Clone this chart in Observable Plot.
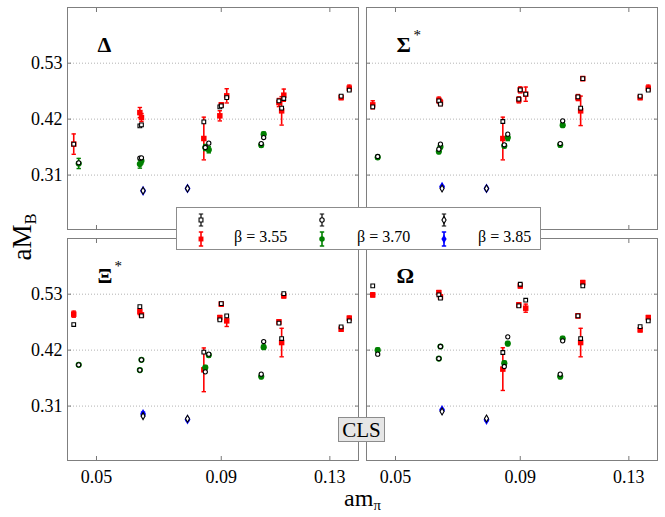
<!DOCTYPE html>
<html>
<head>
<meta charset="utf-8">
<script src="https://cdn.jsdelivr.net/npm/d3@7"></script>
<script src="https://cdn.jsdelivr.net/npm/@observablehq/plot@0.6"></script>
<style>
  body { margin: 0; background: #fff; }
  #wrap { position: relative; width: 665px; height: 517px; font-family: "Liberation Serif", "Times New Roman", serif; color: #000; }
  #wrap svg { position: absolute; left: 0; top: 0; }
  .ylab { position: absolute; left: 22px; top: 237px; transform: translate(-50%, -50%) rotate(-90deg); font-size: 27px; white-space: nowrap; line-height: 1; }
  .xlab { position: absolute; left: 362.5px; top: 486px; transform: translateX(-50%); font-size: 24px; white-space: nowrap; line-height: 1; }
  sub { font-size: 0.62em; vertical-align: -0.3em; line-height: 0; }
  .legend { position: absolute; left: 176px; top: 207px; width: 363px; height: 41px; background: #fff; border: 1px solid #8c8c8c; }
  .legend .lt { position: absolute; top: 21px; font-size: 16px; white-space: nowrap; line-height: 1; }
  .legend svg { position: absolute; top: 0; }
  .cls { position: absolute; left: 338px; top: 417px; width: 45px; height: 23px; background: #e6e6e6; border: 1px solid #8c8c8c; font-size: 21px; line-height: 24px; text-align: center; }
</style>
</head>
<body>
<div id="wrap"></div>
<script>
// ---- data ----
const baryons = ["Δ", "Σ", "Ξ", "Ω"];
const stars = ["", "*", "*", ""];
const betas = ["3.55", "3.70", "3.85"];
const betaColors = ["#ff0000", "#008000", "#0000ff"];
const xTicks = [0.05, 0.09, 0.13];
const yTicks = [0.31, 0.42, 0.53];

const ensembleBeta = ["3.55","3.70","3.55","3.55","3.70","3.70","3.85","3.85","3.55","3.70","3.70",
                      "3.55","3.55","3.55","3.70","3.70","3.55","3.55","3.55","3.55","3.55"];
const ensembleAmPi = [0.0435,0.0449,0.0631,0.0636,0.0631,0.0636,0.0641,0.0785,0.0840,0.0845,0.0857,
                      0.0895,0.0900,0.0919,0.1042,0.1051,0.1107,0.1117,0.1125,0.1344,0.1376];

const deltaLat = [0.3709,0.3328,0.4329,0.4231,0.3316,0.3381,0.2791,0.2836,0.3819,0.3642,0.3597,
                  0.4265,0.4481,0.4658,0.3689,0.3905,0.4526,0.4363,0.4671,0.4624,0.4809];
const deltaErr = [0.020,0.010,0.010,0.008,0.008,0.006,0.002,0.002,0.042,0.006,0.006,
                  0.010,0.004,0.014,0.004,0.004,0.008,0.028,0.012,0.004,0.006];
const deltaFit = [0.3709,0.3341,0.4068,0.4088,0.3434,0.3440,0.2791,0.2836,0.4147,0.3642,0.3728,
                  0.4441,0.4461,0.4624,0.3720,0.3838,0.4559,0.4416,0.4605,0.4652,0.4770];

const sigmaLat = [0.4481,0.3450,0.4573,0.4526,0.3563,0.3656,0.2870,0.2836,0.3819,0.3675,0.3838,
                  0.4579,0.4775,0.4691,0.3695,0.4082,0.4624,0.4363,0.4997,0.4624,0.4809];
const sigmaErr = [0.008,0.004,0.006,0.006,0.004,0.004,0.002,0.002,0.042,0.004,0.006,
                  0.006,0.006,0.014,0.004,0.004,0.006,0.029,0.004,0.004,0.006];
const sigmaFit = [0.4441,0.3465,0.4559,0.4495,0.3610,0.3709,0.2836,0.2836,0.4153,0.3695,0.3905,
                  0.4593,0.4775,0.4691,0.3720,0.4166,0.4638,0.4416,0.4997,0.4652,0.4770];

const xiLat = [0.4907,0.3911,0.4958,0.4893,0.3807,0.4009,0.2942,0.2836,0.3813,0.3858,0.4102,
               0.4840,0.5104,0.4775,0.3681,0.4259,0.4756,0.4349,0.5267,0.4612,0.4828];
const xiErr = [0.006,0.002,0.006,0.004,0.002,0.002,0.004,0.002,0.043,0.004,0.004,
               0.004,0.004,0.011,0.004,0.004,0.004,0.028,0.004,0.004,0.004];
const xiFit = [0.4703,0.3911,0.5056,0.4874,0.3807,0.4009,0.2903,0.2850,0.4160,0.3773,0.4121,
               0.4795,0.5115,0.4874,0.3728,0.4369,0.4730,0.4428,0.5312,0.4658,0.4775];

const omegaLat = [0.5286,0.4200,0.5331,0.5247,0.4035,0.4271,0.3021,0.2830,0.3827,0.3944,0.4329,
                  0.5090,0.5463,0.5025,0.3681,0.4428,0.4874,0.4349,0.5528,0.4599,0.4840];
const omegaErr = [0.004,0.004,0.004,0.004,0.002,0.002,0.002,0.002,0.042,0.004,0.004,
                  0.004,0.004,0.008,0.004,0.004,0.004,0.028,0.004,0.004,0.004];
const omegaFit = [0.5463,0.4121,0.5286,0.5221,0.4035,0.4271,0.2994,0.2856,0.4153,0.3878,0.4461,
                  0.5070,0.5496,0.5182,0.3728,0.4383,0.4874,0.4428,0.5463,0.4663,0.4775];

// ---- table built from the arrays ----
const lat = [deltaLat, sigmaLat, xiLat, omegaLat];
const err = [deltaErr, sigmaErr, xiErr, omegaErr];
const fit = [deltaFit, sigmaFit, xiFit, omegaFit];
const rows = [];
baryons.forEach((b, p) => {
  ensembleAmPi.forEach((x, i) => {
    rows.push({
      col: p % 2, row: Math.floor(p / 2), x, beta: ensembleBeta[i],
      y: lat[p][i], lo: lat[p][i] - err[p][i], hi: lat[p][i] + err[p][i], fit: fit[p][i]
    });
  });
});
const panels = baryons.map((b, p) => ({col: p % 2, row: Math.floor(p / 2), label: b, star: stars[p]}));

const cap = {draw(ctx) { ctx.moveTo(-2.2, 0); ctx.lineTo(2.2, 0); }};
const F = {fx: "col", fy: "row"};
const tickStyle = {tickSize: -4, tickFormat: () => "", label: null, stroke: "#777", facetAnchor: null};

const chart = Plot.plot({
  width: 665, height: 517,
  marginLeft: 66.7, marginRight: 6.7, marginTop: 6.7, marginBottom: 56,
  style: {fontFamily: "'Liberation Serif', 'Times New Roman', serif", background: "white", color: "black"},
  x: {type: "pow", exponent: 0.7, domain: [0.04177, 0.14126]},
  y: {domain: [0.203, 0.6395]},
  fx: {domain: [0, 1], paddingInner: 0.0267, paddingOuter: 0, axis: null},
  fy: {domain: [0, 1], paddingInner: 0.04, paddingOuter: 0, axis: null},
  color: {domain: betas, range: betaColors},
  symbol: {domain: betas, range: ["square", "circle", "diamond"]},
  marks: [
    Plot.gridY(yTicks, {stroke: "#a0a0a0", strokeOpacity: 1, strokeDasharray: "1,2", strokeWidth: 0.8}),
    Plot.frame({stroke: "#7f7f7f"}),
    Plot.axisX(xTicks, {anchor: "bottom", ...tickStyle}),
    Plot.axisX(xTicks, {anchor: "top", ...tickStyle}),
    Plot.axisY(yTicks, {anchor: "left", ...tickStyle}),
    Plot.axisY(yTicks, {anchor: "right", ...tickStyle}),
    Plot.axisX(xTicks, {anchor: "bottom", tickSize: 0, tickPadding: 10, tickFormat: d3.format(".2f"), fontSize: 18, label: null, facetAnchor: "bottom"}),
    Plot.axisY(yTicks, {anchor: "left", tickSize: 0, tickPadding: 5, tickFormat: d3.format(".2f"), fontSize: 18, label: null, facetAnchor: "left"}),
    Plot.ruleX(rows, {x: "x", y1: "lo", y2: "hi", stroke: "beta", strokeWidth: 1.6, ...F}),
    Plot.dot(rows, {x: "x", y: "lo", symbol: cap, fill: "none", stroke: "beta", strokeWidth: 1.4, ...F}),
    Plot.dot(rows, {x: "x", y: "hi", symbol: cap, fill: "none", stroke: "beta", strokeWidth: 1.4, ...F}),
    Plot.dot(rows, {x: "x", y: "y", symbol: "beta", fill: "beta", stroke: "none", r: 3.1, ...F}),
    Plot.dot(rows, {x: "x", y: "fit", symbol: "beta", fill: "white", stroke: "black", strokeWidth: 1.1, r: 2.1, ...F}),
    Plot.text(panels, {...F, text: "label", frameAnchor: "top-left", dx: 30, dy: 29, lineAnchor: "top", textAnchor: "start", fontSize: 22, fontWeight: "bold", fill: "black"}),
    Plot.text(panels, {...F, text: "star", frameAnchor: "top-left", dx: 47, dy: 22, lineAnchor: "top", textAnchor: "start", fontSize: 15, fill: "black"})
  ]
});

const wrap = document.getElementById("wrap");
wrap.appendChild(chart);

// axis titles
const yl = document.createElement("div");
yl.className = "ylab"; yl.innerHTML = "aM<sub>B</sub>";
wrap.appendChild(yl);
const xl = document.createElement("div");
xl.className = "xlab"; xl.innerHTML = "am<sub>π</sub>";
wrap.appendChild(xl);

// legend
const legend = document.createElement("div");
legend.className = "legend";
const symTypes = [d3.symbolSquare, d3.symbolCircle, d3.symbolDiamond];
const iconX = [24, 145, 267];
const textX = [57, 180, 301];
betas.forEach((b, i) => {
  const svg = d3.create("svg").attr("width", 14).attr("height", 42)
    .style("left", (iconX[i] - 7) + "px");
  const g1 = svg.append("g").attr("transform", "translate(7,12)");
  g1.append("path").attr("d", "M0,-6V6M-2.2,-6H2.2M-2.2,6H2.2").attr("stroke", "black").attr("stroke-width", 1.2).attr("fill", "none");
  g1.append("path").attr("d", d3.symbol(symTypes[i], 15)()).attr("fill", "white").attr("stroke", "black").attr("stroke-width", 1.1);
  const g2 = svg.append("g").attr("transform", "translate(7,31)");
  g2.append("path").attr("d", "M0,-7V7M-2.2,-7H2.2M-2.2,7H2.2").attr("stroke", betaColors[i]).attr("stroke-width", 1.6).attr("fill", "none");
  g2.append("path").attr("d", d3.symbol(symTypes[i], 24)()).attr("fill", betaColors[i]);
  legend.appendChild(svg.node());
  const t = document.createElement("div");
  t.className = "lt"; t.style.left = textX[i] + "px";
  t.textContent = "β = " + b;
  legend.appendChild(t);
});
wrap.appendChild(legend);

const cls = document.createElement("div");
cls.className = "cls"; cls.textContent = "CLS";
wrap.appendChild(cls);
</script>
</body>
</html>
